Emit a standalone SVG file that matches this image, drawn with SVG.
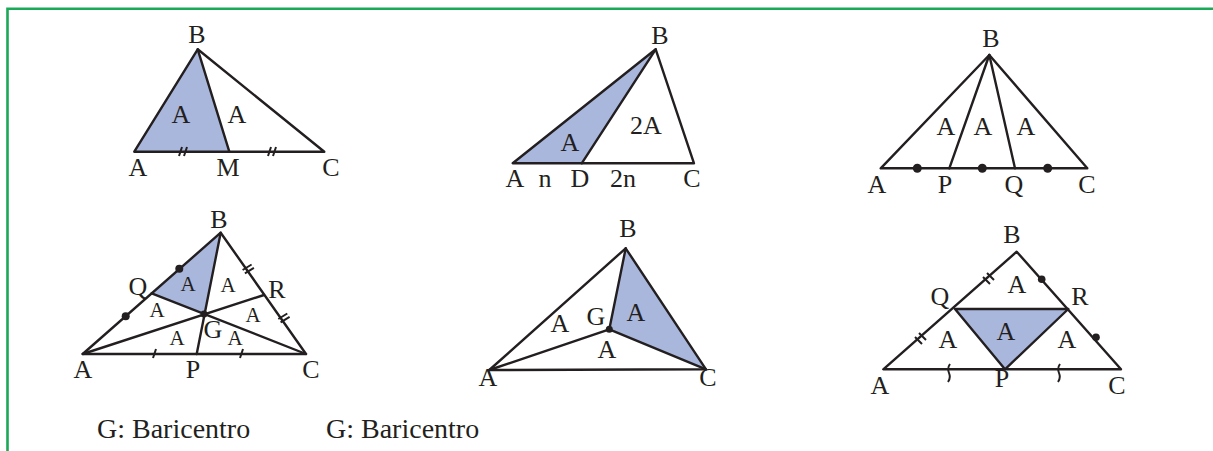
<svg xmlns="http://www.w3.org/2000/svg" width="1213" height="451" viewBox="0 0 1213 451">
<style>
.ln{stroke:#231f20;stroke-width:2.4;fill:none;stroke-linejoin:round;stroke-linecap:round}
.sh{fill:#aab7dd;stroke:none}
.tk{stroke:#231f20;stroke-width:2;fill:none}
.dt{fill:#231f20}
text{font-family:"Liberation Serif","Times New Roman",serif;fill:#231f20;text-anchor:middle}
.lb{font-size:26px}
.sm{font-size:21px}
.cap{font-size:28px;text-anchor:start}
</style>
<rect width="1213" height="451" fill="#fff"/>
<path d="M7.5 451 V8.7 H1213" fill="none" stroke="#1aa957" stroke-width="2.6"/>

<g id="fig1">
<polygon class="sh" points="197.7,49.3 134.3,151.7 229.3,151.7"/>
<polygon class="ln" points="197.7,49.3 134.3,151.7 324.3,151.7"/>
<line class="ln" x1="197.7" y1="49.3" x2="229.3" y2="151.7"/>
<path class="tk" d="M182 147 l-3 9 M187 147 l-3 9 M271 147 l-3 9 M276 147 l-3 9"/>
<text class="lb" x="197" y="43">B</text>
<text class="lb" x="138" y="176">A</text>
<text class="lb" x="228" y="176">M</text>
<text class="lb" x="331" y="176">C</text>
<text class="lb" x="181" y="123">A</text>
<text class="lb" x="237" y="123">A</text>
</g>

<g id="fig2">
<polygon class="sh" points="655.7,49.3 512.7,163.3 581.7,163.3"/>
<polygon class="ln" points="655.7,49.3 512.7,163.3 694,163.3"/>
<line class="ln" x1="655.7" y1="49.3" x2="581.7" y2="163.3"/>
<text class="lb" x="660" y="44">B</text>
<text class="lb" x="515" y="187">A</text>
<text class="lb" x="545" y="187">n</text>
<text class="lb" x="580" y="187">D</text>
<text class="lb" x="623" y="187">2n</text>
<text class="lb" x="692" y="187">C</text>
<text class="lb" x="570" y="151">A</text>
<text class="lb" x="646" y="134">2A</text>
</g>

<g id="fig3">
<polygon class="ln" points="989.3,55 880.7,168.3 1087.3,168.3"/>
<line class="ln" x1="989.3" y1="55" x2="949.3" y2="168.3"/>
<line class="ln" x1="989.3" y1="55" x2="1015" y2="168.3"/>
<circle class="dt" cx="917.3" cy="168.3" r="4.5"/>
<circle class="dt" cx="982.3" cy="168.3" r="4.5"/>
<circle class="dt" cx="1047.7" cy="168.3" r="4.5"/>
<text class="lb" x="991" y="47">B</text>
<text class="lb" x="877" y="193">A</text>
<text class="lb" x="945" y="193">P</text>
<text class="lb" x="1014" y="193">Q</text>
<text class="lb" x="1087" y="193">C</text>
<text class="lb" x="946" y="135">A</text>
<text class="lb" x="983" y="135">A</text>
<text class="lb" x="1026" y="135">A</text>
</g>

<g id="fig4">
<polygon class="sh" points="151.7,293.3 220.7,232.7 204,314"/>
<polygon class="ln" points="220.7,232.7 82.7,354 306,354"/>
<line class="ln" x1="82.7" y1="354" x2="264" y2="295"/>
<line class="ln" x1="220.7" y1="232.7" x2="196.7" y2="354"/>
<line class="ln" x1="306" y1="354" x2="151.7" y2="293.3"/>
<circle class="dt" cx="204" cy="314" r="3.5"/>
<circle class="dt" cx="179.3" cy="268.8" r="4"/>
<circle class="dt" cx="125.7" cy="316.2" r="4"/>
<path class="tk" d="M242.6 270 l9 -5.5 M244.9 273.3 l9 -5.5 M278.3 319 l9 -5.5 M280.6 322.3 l9 -5.5"/>
<path class="tk" d="M156 349 l-3 9 M243 349 l-3 9"/>
<text class="lb" x="219" y="228">B</text>
<text class="lb" x="138" y="295">Q</text>
<text class="lb" x="277" y="298">R</text>
<text class="lb" x="83" y="378">A</text>
<text class="lb" x="193" y="378">P</text>
<text class="lb" x="311" y="378">C</text>
<text class="lb" x="213" y="338">G</text>
<text class="sm" x="188" y="291">A</text>
<text class="sm" x="228" y="292">A</text>
<text class="sm" x="157" y="317">A</text>
<text class="sm" x="253" y="322">A</text>
<text class="sm" x="177" y="345">A</text>
<text class="sm" x="235" y="345">A</text>
<text class="cap" x="97" y="438">G: Baricentro</text>
</g>

<g id="fig5">
<polygon class="sh" points="625.7,248.3 609.3,329.3 706,369.3"/>
<polygon class="ln" points="625.7,248.3 489.3,370 706,369.3"/>
<polyline class="ln" points="625.7,248.3 609.3,329.3 706,369.3"/>
<line class="ln" x1="489.3" y1="370" x2="609.3" y2="329.3"/>
<circle class="dt" cx="609.3" cy="329.3" r="3.5"/>
<text class="lb" x="628" y="237">B</text>
<text class="lb" x="488" y="386">A</text>
<text class="lb" x="708" y="386">C</text>
<text class="lb" x="596" y="325">G</text>
<text class="lb" x="560" y="332">A</text>
<text class="lb" x="636" y="321">A</text>
<text class="lb" x="607" y="358">A</text>
<text class="cap" x="326" y="438">G: Baricentro</text>
</g>

<g id="fig6">
<polygon class="sh" points="955,309 1068.3,309 1005,369.3"/>
<polygon class="ln" points="1016.7,251.7 883.3,369.3 1121,369.3"/>
<polygon class="ln" points="955,309 1068.3,309 1005,369.3"/>
<path class="tk" d="M983 277 l7 7 M987 273 l7 7 M915 337 l7 7 M919 333 l7 7"/>
<circle class="dt" cx="1041.7" cy="279.3" r="3.8"/>
<circle class="dt" cx="1096" cy="337.3" r="3.8"/>
<path class="tk" d="M950 364 q-3 4 -1 9 q2 5 -1 9 M1060 364 q-3 4 -1 9 q2 5 -1 9"/>
<text class="lb" x="1012" y="243">B</text>
<text class="lb" x="940" y="305">Q</text>
<text class="lb" x="1080" y="305">R</text>
<text class="lb" x="880" y="394">A</text>
<text class="lb" x="1002" y="387">P</text>
<text class="lb" x="1117" y="394">C</text>
<text class="lb" x="1017" y="293">A</text>
<text class="lb" x="1006" y="340">A</text>
<text class="lb" x="948" y="348">A</text>
<text class="lb" x="1067" y="348">A</text>
</g>
</svg>
